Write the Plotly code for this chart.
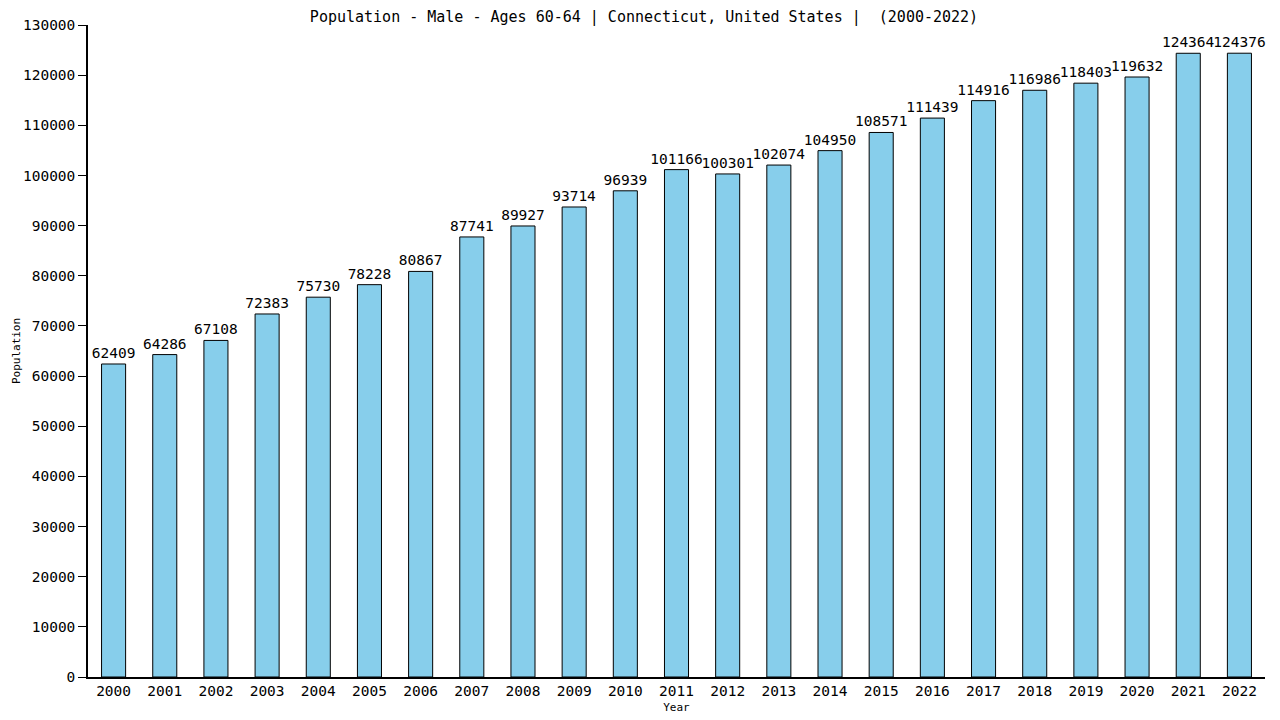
import plotly.graph_objects as go

years = [str(y) for y in range(2000, 2023)]
population = [62409, 64286, 67108, 72383, 75730, 78228, 80867, 87741, 89927, 93714,
              96939, 101166, 100301, 102074, 104950, 108571, 111439, 114916, 116986,
              118403, 119632, 124364, 124376]

font = "DejaVu Sans Mono"

fig = go.Figure()
fig.add_trace(go.Bar(
    x=years, y=population,
    marker=dict(color="#87CEEB", line=dict(color="black", width=1)),
    text=[str(v) for v in population],
    textposition="outside",
    textangle=0,
    constraintext="none",
    textfont=dict(family=font, size=14.5, color="black"),
    cliponaxis=False,
    width=0.47,
))

# page body has an 8px margin, so the figure is a bit smaller than the window
fig.update_layout(
    width=1272, height=712,
    margin=dict(l=80, r=15, t=17, b=43, autoexpand=False),
    plot_bgcolor="white", paper_bgcolor="white",
    font=dict(family=font, color="black"),
    title=dict(text="Population - Male - Ages 60-64 | Connecticut, United States |  (2000-2022)",
               x=0.5, xanchor="center", y=0.988, yanchor="middle",
               font=dict(family=font, size=15)),
    showlegend=False,
    xaxis=dict(title=dict(text="Year", font=dict(size=11), standoff=5),
               showline=True, linecolor="black", linewidth=1.5,
               tickfont=dict(size=14.5), ticks="", range=[-0.5, 22.5],
               automargin=False),
    yaxis=dict(title=dict(text="Population", font=dict(size=11), standoff=0),
               range=[0, 130000], dtick=10000, tickformat="d", showgrid=False,
               showline=True, linecolor="black", linewidth=1.5,
               ticks="outside", ticklen=8, tickcolor="black",
               tickfont=dict(size=14.5), zeroline=False, automargin=False),
)

fig.write_html("out.html")
